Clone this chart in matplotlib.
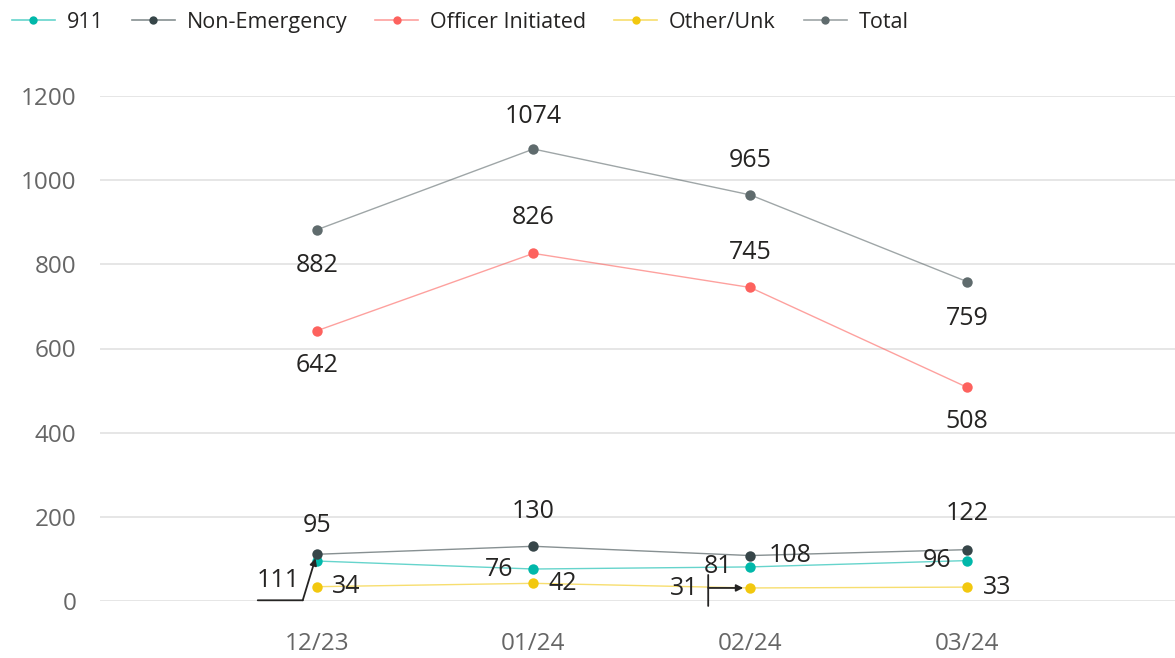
import matplotlib
matplotlib.use("Agg")
import matplotlib.pyplot as plt
import matplotlib.transforms as mtransforms
from matplotlib.lines import Line2D
from matplotlib.colors import to_rgba

plt.rcParams['font.family'] = ['Open Sans', 'DejaVu Sans']

months = ["12/23", "01/24", "02/24", "03/24"]
s911 = [95, 76, 81, 96]
non_emergency = [111, 130, 108, 122]
officer = [642, 826, 745, 508]
other = [34, 42, 31, 33]
total = [882, 1074, 965, 759]

series = [
    ("911", s911, "#01B8AA"),
    ("Non-Emergency", non_emergency, "#374649"),
    ("Officer Initiated", officer, "#FD625E"),
    ("Other/Unk", other, "#F2C80F"),
    ("Total", total, "#5F6B6D"),
]

# label placement per series: (dx px, dy px (down positive), ha)
placements = {
    "911": [(0, -36, 'center'), (-20, 0, 'right'), (-18, 0, 'right'), (-16, 0, 'right')],
    "Non-Emergency": [(-17, 26, 'right'), (0, -35, 'center'), (18, 0, 'left'), (0, -36, 'center')],
    "Officer Initiated": [(0, 35, 'center'), (0, -36, 'center'), (0, -35, 'center'), (0, 34, 'center')],
    "Other/Unk": [(15, 0, 'left'), (15, 0, 'left'), (-52, 1, 'right'), (16, 0, 'left')],
    "Total": [(0, 36, 'center'), (0, -33, 'center'), (0, -34, 'center'), (0, 37, 'center')],
}

DPI = 100
fig = plt.figure(figsize=(11.75, 6.58), dpi=DPI)
ax = fig.add_axes([100 / 1175, 1 - 601 / 658, 1 - 100 / 1175, (601 - 96) / 658])

x = list(range(len(months)))
handles = []
for name, vals, col in series:
    ax.plot(x, vals, color=col, lw=1.0, alpha=0.6, zorder=3, clip_on=False)
    ax.plot(x, vals, ls='none', color=col, marker='o', markersize=7.5,
            markeredgewidth=0, zorder=4, clip_on=False)
    handles.append(Line2D([], [], color=to_rgba(col, 0.6), lw=1.2, marker='o',
                          markersize=6, markerfacecolor=col, markeredgewidth=0,
                          label=name))

pt = 72.0 / DPI
for name, vals, col in series:
    for i, v in enumerate(vals):
        dx, dy, ha = placements[name][i]
        ax.annotate(str(v), xy=(i, v), xytext=(dx * pt, -dy * pt),
                    textcoords='offset points', ha=ha, va='center',
                    fontsize=18, color='#252423', zorder=5)

lead = dict(color='#252423', lw=1.3, shrinkA=0, shrinkB=0)

# leader line for 111 (Non-Emergency, 12/23)
i, v = 0, non_emergency[0]
t1 = mtransforms.offset_copy(ax.transData, fig=fig, x=-59, y=-46, units='dots')
t2 = mtransforms.offset_copy(ax.transData, fig=fig, x=-14, y=-46, units='dots')
ax.annotate("", xy=(i, v), xycoords=t2, xytext=(i, v), textcoords=t1,
            arrowprops=dict(arrowstyle='-', **lead), annotation_clip=False, zorder=6)
ax.annotate("", xy=(i, v), xytext=(i, v), textcoords=t2,
            arrowprops=dict(arrowstyle='-|>', color='#252423', lw=1.3, shrinkA=0,
                            shrinkB=3, mutation_scale=10),
            annotation_clip=False, zorder=6)

# leader for 31 (Other/Unk, 02/24)
i, v = 2, other[2]
tv1 = mtransforms.offset_copy(ax.transData, fig=fig, x=-42, y=13, units='dots')
tv2 = mtransforms.offset_copy(ax.transData, fig=fig, x=-42, y=-18, units='dots')
ax.annotate("", xy=(i, v), xycoords=tv2, xytext=(i, v), textcoords=tv1,
            arrowprops=dict(arrowstyle='-', **lead), annotation_clip=False, zorder=6)
th = mtransforms.offset_copy(ax.transData, fig=fig, x=-42, y=0, units='dots')
ax.annotate("", xy=(i, v), xytext=(i, v), textcoords=th,
            arrowprops=dict(arrowstyle='-|>', color='#252423', lw=1.3, shrinkA=0,
                            shrinkB=5, mutation_scale=10),
            annotation_clip=False, zorder=6)

ax.set_xlim(-1.0, 3.96)
ax.set_ylim(0, 1200)
ax.set_yticks(range(0, 1201, 200))
ax.set_xticks(x)
ax.set_xticklabels(months)
ax.grid(axis='y', color='#E1E1E1', lw=1.2)
ax.set_axisbelow(True)
for s in ax.spines.values():
    s.set_visible(False)
ax.tick_params(axis='both', length=0, labelsize=17.5, labelcolor='#666666')
ax.tick_params(axis='y', pad=17)
ax.tick_params(axis='x', pad=22)
for lab in ax.get_yticklabels():
    lab.set_horizontalalignment('right')

fig.legend(handles=handles, loc='upper left', bbox_to_anchor=(0.0, 1.0), ncol=5,
           frameon=False, fontsize=15.5, handlelength=2.0, handletextpad=0.55,
           columnspacing=1.3, borderaxespad=0.15, labelcolor='#252423')

fig.savefig("out.png", dpi=DPI)
